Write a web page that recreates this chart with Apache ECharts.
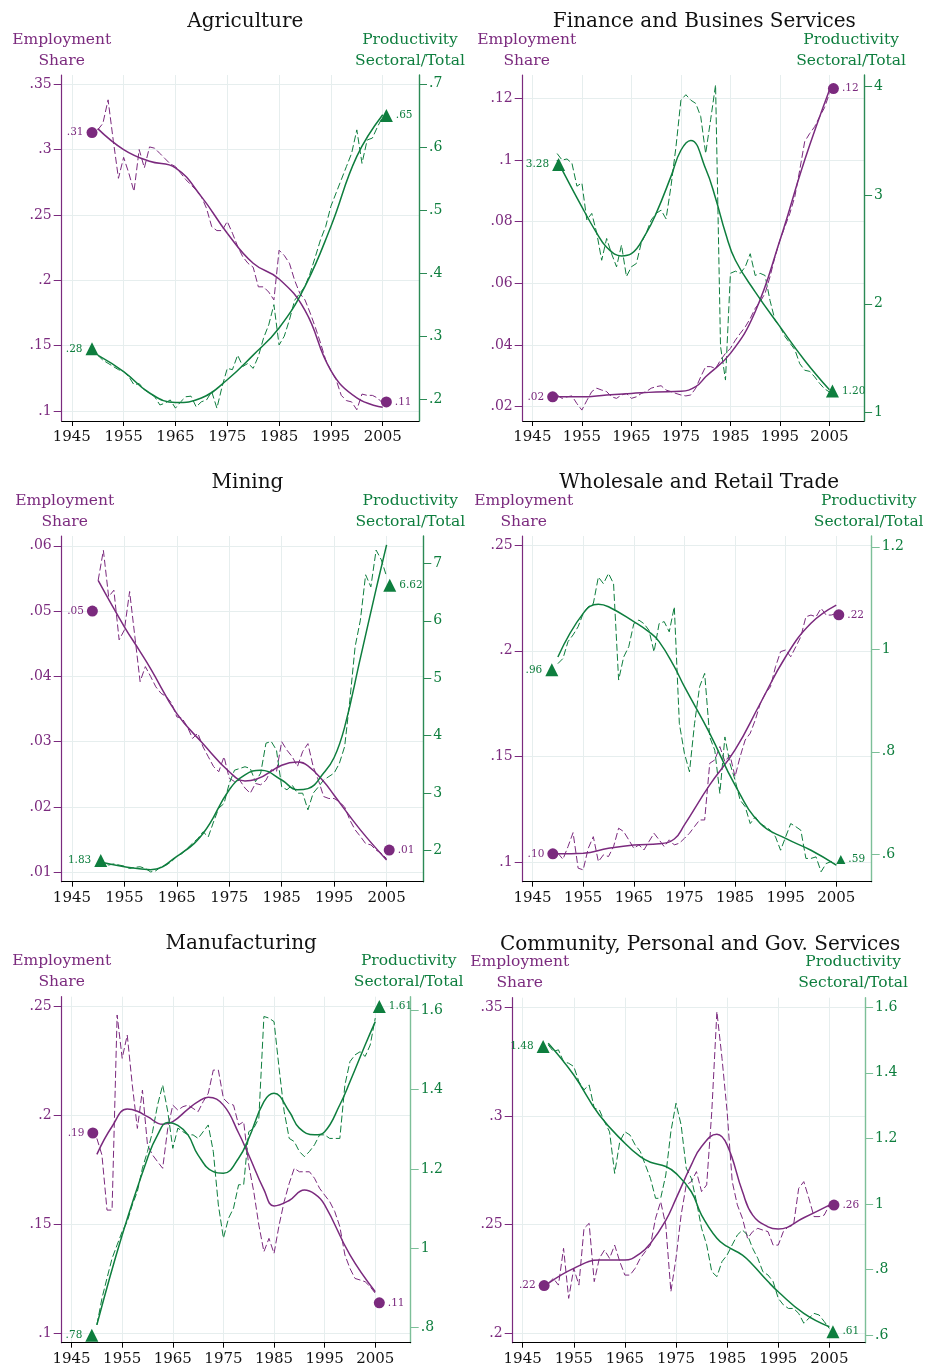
<!DOCTYPE html>
<html>
<head>
<meta charset="utf-8">
<script src="https://cdn.jsdelivr.net/npm/echarts@6/dist/echarts.min.js"></script>
<style>
  html, body { margin: 0; padding: 0; background: #ffffff; }
  #chart { width: 933px; height: 1372px; }
</style>
</head>
<body>
<div id="chart"></div>
<script>
// ---------------------------------------------------------------
// Sectoral employment shares and relative productivity, 1950-2005
// ---------------------------------------------------------------
const years = [1950, 1951, 1952, 1953, 1954, 1955, 1956, 1957, 1958, 1959,
  1960, 1961, 1962, 1963, 1964, 1965, 1966, 1967, 1968, 1969,
  1970, 1971, 1972, 1973, 1974, 1975, 1976, 1977, 1978, 1979,
  1980, 1981, 1982, 1983, 1984, 1985, 1986, 1987, 1988, 1989,
  1990, 1991, 1992, 1993, 1994, 1995, 1996, 1997, 1998, 1999,
  2000, 2001, 2002, 2003, 2004, 2005];
const yearTicks = [1945, 1955, 1965, 1975, 1985, 1995, 2005];

// Agriculture
const agriEmp = [.315, .320, .338, .307, .278, .294, .282, .268, .300, .286,
  .302, .301, .297, .293, .289, .287, .282, .277, .273, .269,
  .264, .255, .241, .238, .238, .245, .236, .226, .218, .213,
  .210, .195, .195, .191, .185, .223, .219, .213, .200, .190,
  .185, .175, .164, .152, .139, .131, .124, .112, .108, .107,
  .101, .113, .112, .112, .110, .106];
const agriProd = [.270, .262, .257, .252, .247, .244, .236, .223, .225, .215,
  .210, .204, .191, .194, .199, .186, .196, .204, .205, .188,
  .196, .199, .212, .186, .220, .249, .247, .270, .252, .257,
  .249, .268, .297, .318, .350, .286, .300, .326, .357, .368,
  .379, .400, .426, .453, .474, .506, .527, .548, .569, .590,
  .627, .574, .611, .614, .632, .648];
const agriEmpTrend = [[1950, .316], [1955, .300], [1960, .291], [1965, .286], [1970, .264],
  [1975, .236], [1980, .213], [1985, .201], [1990, .177], [1995, .131], [2000, .110], [2005, .103]];
const agriProdTrend = [[1950, .270], [1955, .244], [1960, .210], [1965, .195], [1970, .202],
  [1975, .231], [1980, .270], [1985, .313], [1990, .379], [1995, .474], [2000, .585], [2005, .651]];
const agriEmpEnds = [[1948.9, .313], [2005.7, .107]];
const agriProdEnds = [[1948.9, .28], [2005.7, .65]];
const agriEmpTicks = [.1, .15, .2, .25, .3, .35];
const agriProdTicks = [.2, .3, .4, .5, .6, .7];

// Finance and business services
const finEmp = [.0238, .0227, .0232, .0235, .0210, .0189, .0220, .0249, .0260, .0254,
  .0249, .0232, .0227, .0238, .0243, .0227, .0232, .0243, .0249, .0260,
  .0265, .0268, .0254, .0249, .0243, .0238, .0235, .0238, .0260, .0297,
  .0330, .0330, .0324, .0351, .0373, .0389, .0416, .0438, .0459, .0486,
  .0519, .0540, .0568, .0622, .0686, .0740, .0784, .0827, .0881, .0968,
  .1060, .1086, .1108, .1140, .1170, .1216];
const finProd = [3.38, 3.32, 3.33, 3.29, 3.08, 3.11, 2.77, 2.83, 2.65, 2.40,
  2.60, 2.46, 2.34, 2.54, 2.25, 2.34, 2.37, 2.56, 2.65, 2.77,
  2.83, 2.86, 2.78, 3.08, 3.44, 3.87, 3.92, 3.87, 3.84, 3.72,
  3.38, 3.69, 4.01, 1.61, 1.30, 2.28, 2.30, 2.28, 2.34, 2.46,
  2.26, 2.28, 2.26, 2.03, 1.85, 1.79, 1.70, 1.64, 1.58, 1.45,
  1.39, 1.38, 1.33, 1.27, 1.22, 1.19];
const finEmpTrend = [[1950, .0232], [1955, .0232], [1960, .0238], [1965, .0243], [1970, .0248],
  [1975, .0250], [1978, .0265], [1980, .0297], [1985, .0373], [1990, .0508], [1995, .0740],
  [2000, .1000], [2005, .1227]];
const finProdTrend = [[1950, 3.32], [1955, 2.89], [1958, 2.65], [1960, 2.52], [1963, 2.44], [1965, 2.46],
  [1968, 2.65], [1970, 2.83], [1973, 3.17], [1975, 3.41], [1977, 3.50], [1980, 3.24], [1982, 2.97],
  [1984, 2.65], [1986, 2.40], [1990, 2.11], [1995, 1.79], [2000, 1.48], [2005, 1.21]];
const finEmpEnds = [[1949.1, .0232], [2005.8, .1232]];
const finProdEnds = [[1950.3, 3.28], [2005.6, 1.20]];
const finEmpTicks = [.02, .04, .06, .08, .1, .12];
const finProdTicks = [1, 2, 3, 4];

// Mining
const minEmp = [.0547, .0593, .0522, .0532, .0456, .0471, .0530, .0461, .0392, .0415,
  .0400, .0384, .0374, .0369, .0359, .0338, .0336, .0323, .0305, .0313,
  .0292, .0277, .0262, .0254, .0277, .0244, .0239, .0241, .0229, .0221,
  .0236, .0234, .0241, .0257, .0254, .0300, .0287, .0277, .0262, .0285,
  .0297, .0262, .0241, .0216, .0213, .0213, .0208, .0200, .0180, .0165,
  .0155, .0144, .0142, .0134, .0129, .0121];
const minProd = [1.81, 1.78, 1.75, 1.77, 1.75, 1.73, 1.69, 1.71, 1.72, 1.69,
  1.63, 1.65, 1.72, 1.75, 1.81, 1.90, 1.95, 2.04, 2.13, 2.21,
  2.33, 2.24, 2.50, 2.74, 2.82, 3.17, 3.40, 3.43, 3.46, 3.43,
  3.20, 3.35, 3.87, 3.90, 3.75, 3.11, 3.06, 3.14, 3.00, 3.00,
  2.71, 3.00, 3.11, 3.23, 3.29, 3.35, 3.52, 3.81, 4.62, 5.55,
  6.01, 6.80, 6.59, 7.23, 7.06, 6.77];
const minEmpTrend = [[1950, .0547], [1955, .0476], [1958, .0438], [1960, .0412], [1965, .0343],
  [1970, .0297], [1975, .0254], [1978, .0240], [1980, .0242], [1985, .0264], [1988, .0269],
  [1990, .0263], [1993, .0239], [1995, .0218], [2000, .0165], [2005, .0119]];
const minProdTrend = [[1950, 1.81], [1955, 1.72], [1960, 1.67], [1965, 1.90], [1970, 2.30],
  [1975, 3.06], [1978, 3.32], [1981, 3.40], [1985, 3.23], [1988, 3.06], [1990, 3.08],
  [1993, 3.35], [1995, 3.62], [1997, 4.15], [2000, 5.35], [2003, 6.55], [2005, 7.32]];
const minEmpEnds = [[1948.9, .050], [2005.5, .0134]];
const minProdEnds = [[1950.5, 1.83], [2005.6, 6.62]];
const minEmpTicks = [.01, .02, .03, .04, .05, .06];
const minProdTicks = [2, 3, 4, 5, 6, 7];

// Wholesale and retail trade
const wsEmp = [.1043, .1014, .1074, .1140, .0972, .0964, .1066, .1121, .1003, .1035,
  .1027, .1074, .1161, .1145, .1106, .1066, .1082, .1058, .1098, .1137,
  .1106, .1074, .1106, .1082, .1090, .1113, .1137, .1169, .1200, .1200,
  .1468, .1484, .1547, .1476, .1507, .1405, .1499, .1578, .1610, .1673,
  .1752, .1799, .1830, .1925, .1996, .2004, .1972, .2019, .2067, .2161,
  .2169, .2161, .2201, .2169, .2169, .2177];
const wsProd = [.972, .982, 1.015, 1.028, 1.044, 1.070, 1.083, 1.089, 1.141, 1.128,
  1.148, 1.128, .940, .985, 1.005, 1.050, 1.057, 1.050, 1.037, .995,
  1.050, 1.054, 1.034, 1.083, .855, .797, .761, .855, .927, .953,
  .829, .803, .719, .829, .777, .745, .706, .693, .660, .673,
  .660, .654, .647, .634, .608, .634, .660, .654, .647, .592,
  .592, .595, .566, .582, .586, .579];
const wsEmpTrend = [[1950, .1040], [1955, .1043], [1960, .1066], [1965, .1082], [1970, .1087],
  [1973, .1110], [1975, .1177], [1980, .1366], [1985, .1531], [1990, .1752], [1995, .1972],
  [2000, .2130], [2005, .2216]];
const wsProdTrend = [[1950, .985], [1955, 1.070], [1958, 1.088], [1960, 1.083], [1965, 1.054],
  [1968, 1.034], [1970, 1.015], [1973, .966], [1975, .927], [1980, .836], [1985, .735],
  [1990, .660], [1995, .631], [2000, .608], [2005, .579]];
const wsEmpEnds = [[1949.0, .104], [2005.5, .217]];
const wsProdEnds = [[1948.8, .96], [2005.9, .59]];
const wsEmpTicks = [.1, .15, .2, .25];
const wsProdTicks = [.6, .8, 1, 1.2];

// Manufacturing
const mfgEmp = [.1895, .1819, .1566, .1566, .2462, .2263, .2370, .2140, .1941, .2117,
  .1865, .1819, .1788, .1758, .1941, .2048, .2025, .2041, .2048, .2033,
  .2018, .2064, .2102, .2209, .2209, .2079, .2056, .2048, .1957, .1972,
  .1773, .1650, .1497, .1375, .1436, .1367, .1497, .1605, .1689, .1758,
  .1742, .1742, .1742, .1712, .1666, .1635, .1605, .1559, .1490, .1360,
  .1298, .1252, .1245, .1237, .1214, .1184];
const mfgProd = [.806, .873, .924, .974, 1.008, 1.042, 1.067, 1.109, 1.143, 1.202,
  1.244, 1.294, 1.362, 1.412, 1.345, 1.252, 1.303, 1.294, 1.286, 1.286,
  1.277, 1.294, 1.311, 1.244, 1.109, 1.025, 1.075, 1.101, 1.160, 1.160,
  1.294, 1.303, 1.328, 1.585, 1.581, 1.572, 1.454, 1.345, 1.277, 1.269,
  1.244, 1.231, 1.244, 1.261, 1.286, 1.286, 1.277, 1.277, 1.277, 1.412,
  1.471, 1.488, 1.496, 1.484, 1.513, 1.581];
const mfgEmpTrend = [[1950, .1822], [1953, .1950], [1956, .2030], [1958, .2020], [1960, .1995],
  [1963, .1960], [1965, .1972], [1968, .2030], [1970, .2064], [1972, .2084], [1975, .2048],
  [1978, .1920], [1980, .1819], [1983, .1660], [1985, .1585], [1988, .1610], [1991, .1658],
  [1993, .1640], [1995, .1590], [2000, .1360], [2005, .1191]];
const mfgProdTrend = [[1950, .806], [1955, 1.033], [1960, 1.227], [1962, 1.286], [1964, 1.317],
  [1966, 1.310], [1968, 1.286], [1970, 1.235], [1973, 1.193], [1975, 1.189], [1978, 1.227],
  [1980, 1.277], [1983, 1.370], [1985, 1.391], [1988, 1.345], [1990, 1.303], [1993, 1.286],
  [1995, 1.294], [1998, 1.362], [2000, 1.420], [2003, 1.513], [2005, 1.572]];
const mfgEmpEnds = [[1949.2, .192], [2005.8, .114]];
const mfgProdEnds = [[1949.0, .78], [2005.8, 1.61]];
const mfgEmpTicks = [.1, .15, .2, .25];
const mfgProdTicks = [.8, 1, 1.2, 1.4, 1.6];

// Community, personal and government services
const comEmp = [.2230, .2253, .2222, .2391, .2161, .2299, .2222, .2483, .2506, .2238,
  .2345, .2383, .2345, .2406, .2330, .2268, .2268, .2299, .2345, .2376,
  .2406, .2529, .2606, .2498, .2192, .2345, .2544, .2683, .2698, .2744,
  .2652, .2683, .3020, .3480, .3265, .3020, .2698, .2591, .2529, .2437,
  .2468, .2483, .2475, .2468, .2406, .2406, .2468, .2491, .2498, .2667,
  .2698, .2621, .2537, .2537, .2544, .2590];
const comProd = [1.485, 1.465, 1.470, 1.434, 1.429, 1.419, 1.373, 1.348, 1.363, 1.292,
  1.287, 1.251, 1.220, 1.093, 1.190, 1.220, 1.210, 1.180, 1.160, 1.119,
  1.078, 1.017, 1.017, 1.088, 1.221, 1.307, 1.241, 1.109, 1.078, 1.007,
  .926, .875, .793, .778, .824, .844, .875, .905, .920, .905,
  .864, .834, .793, .783, .763, .712, .692, .681, .681, .666,
  .636, .651, .666, .661, .641, .620];
const comEmpTrend = [[1950, .2230], [1955, .2299], [1960, .2337], [1965, .2337], [1968, .2368],
  [1970, .2414], [1973, .2520], [1975, .2620], [1978, .2775], [1980, .2860], [1983, .2916],
  [1985, .2867], [1988, .2652], [1990, .2544], [1993, .2490], [1995, .2480], [2000, .2532],
  [2005, .2590]];
const comProdTrend = [[1950, 1.490], [1955, 1.393], [1960, 1.271], [1965, 1.185], [1968, 1.144],
  [1970, 1.127], [1973, 1.114], [1975, 1.093], [1978, 1.037], [1980, .966], [1983, .895],
  [1985, .870], [1988, .844], [1990, .814], [1993, .763], [1995, .732], [2000, .666], [2005, .625]];
const comEmpEnds = [[1949.2, .222], [2005.9, .259]];
const comProdEnds = [[1949.0, 1.48], [2005.7, .61]];
const comEmpTicks = [.2, .25, .3, .35];
const comProdTicks = [.6, .8, 1, 1.2, 1.4, 1.6];

// ---------------------------------------------------------------
// Styling
// ---------------------------------------------------------------
const FONT = 'DejaVu Serif';
const PURPLE = '#7b2a7e';
const GREEN = '#0e7e3e';
const GRID_LINE = '#e6eeee';
const AXIS_GREEN_DARK = '#2b8a55';
const AXIS_GREEN_LIGHT = '#7cbf98';

const panels = [
  { title: 'Agriculture', emp: agriEmp, prod: agriProd, empTrend: agriEmpTrend, prodTrend: agriProdTrend,
    empEnds: agriEmpEnds, prodEnds: agriProdEnds, empTicks: agriEmpTicks, prodTicks: agriProdTicks,
    box: [61.7, 75, 357.3, 346], empRange: [.0924, .357], prodRange: [.1656, .714],
    rightColor: AXIS_GREEN_DARK, nameShift: [0, -9], titleShift: 0 },
  { title: 'Finance and Busines Services', emp: finEmp, prod: finProd, empTrend: finEmpTrend, prodTrend: finProdTrend,
    empEnds: finEmpEnds, prodEnds: finProdEnds, empTicks: finEmpTicks, prodTicks: finProdTicks,
    box: [522.7, 75, 361.3, 346], empRange: [.01536, .1276], prodRange: [.924, 4.101],
    rightColor: AXIS_GREEN_DARK, nameShift: [4, -13], titleShift: -4 },
  { title: 'Mining', emp: minEmp, prod: minProd, empTrend: minEmpTrend, prodTrend: minProdTrend,
    empEnds: minEmpEnds, prodEnds: minProdEnds, empTicks: minEmpTicks, prodTicks: minProdTicks,
    box: [61.7, 536, 361.6, 345.7], empRange: [.00856, .0615], prodRange: [1.46, 7.475],
    rightColor: AXIS_GREEN_DARK, nameShift: [3, -13], titleShift: 0 },
  { title: 'Wholesale and Retail Trade', emp: wsEmp, prod: wsProd, empTrend: wsEmpTrend, prodTrend: wsProdTrend,
    empEnds: wsEmpEnds, prodEnds: wsProdEnds, empTicks: wsEmpTicks, prodTicks: wsProdTicks,
    box: [522.7, 536, 349, 345.7], empRange: [.0908, .2543], prodRange: [.5466, 1.221],
    rightColor: AXIS_GREEN_LIGHT, nameShift: [1, -3], titleShift: -3, smallEndTriangle: true },
  { title: 'Manufacturing', emp: mfgEmp, prod: mfgProd, empTrend: mfgEmpTrend, prodTrend: mfgProdTrend,
    empEnds: mfgEmpEnds, prodEnds: mfgProdEnds, empTicks: mfgEmpTicks, prodTicks: mfgProdTicks,
    box: [61.7, 996.7, 349, 346], empRange: [.0957, .2546], prodRange: [.761, 1.635],
    rightColor: AXIS_GREEN_LIGHT, nameShift: [0, -2], titleShift: 0 },
  { title: 'Community, Personal and Gov. Services', emp: comEmp, prod: comProd, empTrend: comEmpTrend, prodTrend: comProdTrend,
    empEnds: comEmpEnds, prodEnds: comProdEnds, empTicks: comEmpTicks, prodTicks: comProdTicks,
    box: [512.7, 997.7, 369, 345], empRange: [.1957, .3544], prodRange: [.5765, 1.629],
    rightColor: AXIS_GREEN_LIGHT, nameShift: [7, -12], titleShift: -2 }
];

const tickFmt = v => String(+(+v).toFixed(3)).replace(/^0\./, '.');
const endFmt = p => p.value[1].toFixed(2).replace(/^0\./, '.');
const shiftPad = s => s >= 0 ? [0, 0, 0, 2 * s] : [0, -2 * s, 0, 0];

const option = {
  animation: false,
  backgroundColor: '#ffffff',
  textStyle: { fontFamily: FONT },
  title: [], grid: [], xAxis: [], yAxis: [], series: []
};

panels.forEach((p, i) => {
  const [left, top, width, height] = p.box;

  option.title.push({
    text: p.title,
    left: left + width / 2 + p.titleShift,
    top: top - 68,
    textAlign: 'center',
    textStyle: { fontFamily: FONT, fontSize: 20, fontWeight: 'normal', color: '#111111' }
  });

  option.grid.push({ left, top, width, height, containLabel: false });

  option.xAxis.push({
    type: 'value', gridIndex: i, min: 1943.05, max: 2012,
    axisLine: { show: true, onZero: false, lineStyle: { color: '#000000', width: 1 } },
    axisTick: { show: true, customValues: yearTicks, length: 5, lineStyle: { color: '#000000', width: 1 } },
    axisLabel: { customValues: yearTicks, formatter: v => String(v), margin: 9, color: '#111111', fontSize: 15, fontFamily: FONT },
    splitLine: { show: true, lineStyle: { color: GRID_LINE, width: 1 } }
  });

  const leftIdx = option.yAxis.length;
  option.yAxis.push({
    type: 'value', gridIndex: i, position: 'left',
    min: p.empRange[0], max: p.empRange[1],
    name: 'Employment\nShare', nameLocation: 'end', nameGap: 4,
    nameTextStyle: { fontFamily: FONT, fontSize: 15.5, lineHeight: 21, color: PURPLE,
      align: 'center', verticalAlign: 'bottom', padding: shiftPad(p.nameShift[0]) },
    axisLine: { show: true, onZero: false, lineStyle: { color: PURPLE, width: 1.2 } },
    axisTick: { show: true, customValues: p.empTicks, length: 8, lineStyle: { color: PURPLE, width: 1 } },
    axisLabel: { customValues: p.empTicks, formatter: tickFmt, margin: 10, color: PURPLE, fontSize: 14, fontFamily: FONT },
    splitLine: { show: true, lineStyle: { color: GRID_LINE, width: 1 } }
  });

  const rightIdx = option.yAxis.length;
  option.yAxis.push({
    type: 'value', gridIndex: i, position: 'right',
    min: p.prodRange[0], max: p.prodRange[1],
    name: 'Productivity\nSectoral/Total', nameLocation: 'end', nameGap: 4,
    nameTextStyle: { fontFamily: FONT, fontSize: 15.5, lineHeight: 21, color: GREEN,
      align: 'center', verticalAlign: 'bottom', padding: shiftPad(p.nameShift[1]) },
    axisLine: { show: true, onZero: false, lineStyle: { color: p.rightColor, width: 1.4 } },
    axisTick: { show: true, customValues: p.prodTicks, length: 8, lineStyle: { color: p.rightColor, width: 1 } },
    axisLabel: { customValues: p.prodTicks, formatter: tickFmt, margin: 10, color: GREEN, fontSize: 14, fontFamily: FONT },
    splitLine: { show: false }
  });

  const pair = arr => years.map((y, k) => [y, arr[k]]);
  const dashed = (data, yIdx, color) => ({
    type: 'line', xAxisIndex: i, yAxisIndex: yIdx, data, showSymbol: false, silent: true,
    lineStyle: { color, width: 1, type: [7, 3] }, z: 2
  });
  const trend = (data, yIdx, color) => ({
    type: 'line', xAxisIndex: i, yAxisIndex: yIdx, data, showSymbol: false, silent: true,
    smooth: 0.45, lineStyle: { color, width: 1.5 }, z: 3
  });
  const ends = (data, yIdx, color, symbol, size, smallLast) => ({
    type: 'scatter', xAxisIndex: i, yAxisIndex: yIdx, symbol, symbolSize: size, silent: true, z: 4,
    itemStyle: { color, opacity: 1 },
    label: { show: true, formatter: endFmt, color, fontFamily: FONT, fontSize: 10.5, distance: 3 },
    data: data.map((d, k) => ({
      value: d,
      symbolSize: (smallLast && k === 1) ? size * 0.7 : size,
      label: { position: k === 0 ? 'left' : 'right' }
    }))
  });

  option.series.push(
    dashed(pair(p.emp), leftIdx, PURPLE),
    dashed(pair(p.prod), rightIdx, GREEN),
    trend(p.empTrend, leftIdx, PURPLE),
    trend(p.prodTrend, rightIdx, GREEN),
    ends(p.empEnds, leftIdx, PURPLE, 'circle', 11, false),
    ends(p.prodEnds, rightIdx, GREEN, 'triangle', 13, !!p.smallEndTriangle)
  );
});

const chart = echarts.init(document.getElementById('chart'), null, { renderer: 'canvas' });
chart.setOption(option);
</script>
</body>
</html>
